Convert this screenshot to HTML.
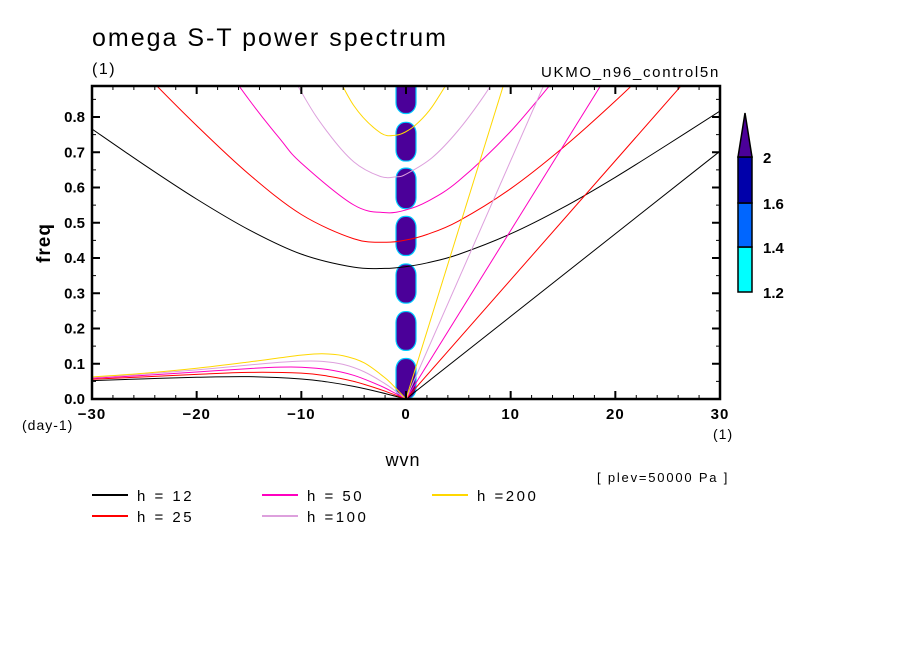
<!DOCTYPE html>
<html><head><meta charset="utf-8">
<style>
body{margin:0;background:#fff;}
svg{display:block;font-family:"Liberation Sans",sans-serif;}
</style></head>
<body>
<svg id="c" width="904" height="654" viewBox="0 0 904 654">
<defs><clipPath id="pc"><rect x="92" y="86" width="628" height="313"/></clipPath></defs>
<text x="92" y="46" font-size="25" letter-spacing="2">omega S-T power spectrum</text>
<text x="92" y="74" font-size="16" letter-spacing="1.5">(1)</text>
<text x="720" y="77" font-size="15" letter-spacing="1.7" text-anchor="end">UKMO_n96_control5n</text>
<text x="50" y="243" font-size="19" font-weight="bold" letter-spacing="1" text-anchor="middle" transform="rotate(-90 50 243)">freq</text>
<text x="403" y="466" font-size="18" letter-spacing="1" text-anchor="middle">wvn</text>
<text x="22" y="430" font-size="14" letter-spacing="1">(day-1)</text>
<text x="713" y="439" font-size="14" letter-spacing="1">(1)</text>
<text x="597" y="482" font-size="13" letter-spacing="1.8">[ plev=50000 Pa ]</text>
<g id="plot" clip-path="url(#pc)"></g>
<g id="axes"></g>
<g id="cbar"></g>
<g id="legend"></g>
</svg>
<script>
const hLabels=["h = 12","h = 25","h = 50","h =100","h =200"];
const colors=["#000000","#ff0000","#ff00c0","#dda0dd","#ffd700"];
// n=1 inertia-gravity curves
const igWvn=[[-30,-25,-20,-15,-10,-5,-2,0,2,5,10,15,20,25,30],
[-30,-25,-20,-15,-10,-5,-2,0,2,5,10,15,20,25],
[-20,-15,-12,-10,-5,-2,0,2,5,10,15],
[-15,-10,-7.5,-5,-2.5,-1,0,2.5,5,7.5,10],
[-7.5,-5,-2.5,-1,0,1,2.5,5]];
const igFreq=[[0.766,0.664,0.567,0.480,0.411,0.374,0.3705,0.3755,0.386,0.410,0.4685,0.543,0.629,0.722,0.817],
[1.081,0.9245,0.7755,0.6376,0.5234,0.4547,0.4446,0.451,0.4667,0.5046,0.5967,0.7131,0.8453,0.9876],
[1.056,0.8493,0.7364,0.6693,0.5507,0.5287,0.5364,0.5597,0.618,0.7593,0.9357],
[1.147,0.8711,0.7572,0.6731,0.6319,0.630,0.6379,0.6848,0.7624,0.8623,0.9786],
[0.9737,0.8329,0.7563,0.7483,0.7585,0.7797,0.8292,0.9487]];
// n=1 equatorial Rossby curves
const rWvn=[[-30,-25,-20,-15,-10,-7.5,-5,-2.5,0],
[-30,-25,-20,-15,-10,-7.5,-5,-2.5,0],
[-30,-25,-20,-15,-12,-10,-7.5,-5,-2.5,-1,0],
[-30,-25,-20,-15,-12,-10,-8,-6,-4,-2,-1,0],
[-30,-25,-20,-15,-12,-10,-8,-6,-4,-2,-1,0]];
const rFreq=[[0.0523,0.0572,0.0616,0.0633,0.0568,0.0484,0.0357,0.0191,0],
[0.056,0.0628,0.0699,0.0755,0.0733,0.065,0.05,0.0273,0],
[0.059,0.0669,0.0767,0.0863,0.0903,0.0901,0.0836,0.0672,0.0381,0.0158,0],
[0.0612,0.0707,0.0825,0.0964,0.1042,0.1075,0.1068,0.0981,0.0773,0.0435,0.0222,0],
[0.0625,0.0731,0.0871,0.1051,0.1171,0.1244,0.1282,0.1226,0.1025,0.0598,0.0313,0]];
// Kelvin wave frequency at wvn 30
const kelvinAt30=[0.703,1.014,1.434,2.028,2.868];
// spectral power blobs at wvn 0
const blobLo=[0.0,0.138,0.272,0.407,0.54,0.675,0.81];
const blobHi=[0.115,0.248,0.383,0.518,0.655,0.785,0.95];
const cbLevels=[1.2,1.4,1.6,2];
const cbColors=["#00ffff","#0066ff","#0000aa","#4b0099"];
const xTicks=[-30,-20,-10,0,10,20,30];
const yTicks=[0,0.1,0.2,0.3,0.4,0.5,0.6,0.7,0.8];

const X0=92,X1=720,Y0=399,YTOP=86;
const xs=v=>X0+(v+30)/60*(X1-X0);
const ys=v=>Y0-v/0.1*35.25;
const NS="http://www.w3.org/2000/svg";
function mk(tag,attrs,parent){const e=document.createElementNS(NS,tag);for(const k in attrs)e.setAttribute(k,attrs[k]);parent.appendChild(e);return e;}
function smooth(px,py){let d="M"+px[0]+","+py[0];for(let i=0;i<px.length-1;i++){const x0=px[Math.max(i-1,0)],y0=py[Math.max(i-1,0)],x1=px[i],y1=py[i],x2=px[i+1],y2=py[i+1],x3=px[Math.min(i+2,px.length-1)],y3=py[Math.min(i+2,px.length-1)];d+=" C"+(x1+(x2-x0)/6)+","+(y1+(y2-y0)/6)+" "+(x2-(x3-x1)/6)+","+(y2-(y3-y1)/6)+" "+x2+","+y2;}return d;}
const plot=document.getElementById('plot');
blobLo.forEach((lo,i)=>{
 const yA=ys(blobHi[i]),yB=ys(lo),cx=xs(0);
 const r=mk('rect',{x:cx-10,y:yA,width:20,height:yB-yA,rx:9,ry:11,fill:"#4b0099",stroke:"#00ccff","stroke-width":1.2},plot);
 
 
});
for(let j=0;j<5;j++){
 const p1=mk('path',{d:smooth(igWvn[j].map(xs),igFreq[j].map(ys)),fill:"none",stroke:colors[j],"stroke-width":1},plot);
 
 
 const p2=mk('path',{d:smooth(rWvn[j].map(xs),rFreq[j].map(ys)),fill:"none",stroke:colors[j],"stroke-width":1},plot);
 
 
 const p3=mk('line',{x1:xs(0),y1:ys(0),x2:xs(30),y2:ys(kelvinAt30[j]),stroke:colors[j],"stroke-width":1},plot);
 
 
}
const ax=document.getElementById('axes');
mk('rect',{x:X0,y:YTOP,width:X1-X0,height:Y0-YTOP,fill:"none",stroke:"#000","stroke-width":2.5},ax);
for(let v=-30;v<=30;v+=2){const big=v%10===0;const L=big?8:4;
 mk('line',{x1:xs(v),y1:Y0,x2:xs(v),y2:Y0-L,stroke:"#000","stroke-width":big?2:1},ax);
 mk('line',{x1:xs(v),y1:YTOP,x2:xs(v),y2:YTOP+L,stroke:"#000","stroke-width":big?2:1},ax);}
for(let k=0;k<=17;k++){const v=k*0.05;const big=k%2===0;const L=big?8:4;
 mk('line',{x1:X0,y1:ys(v),x2:X0+L,y2:ys(v),stroke:"#000","stroke-width":big?2:1},ax);
 mk('line',{x1:X1,y1:ys(v),x2:X1-L,y2:ys(v),stroke:"#000","stroke-width":big?2:1},ax);}
xTicks.forEach(v=>{const t=mk('text',{x:xs(v),y:419,"font-size":15,"font-weight":"bold","letter-spacing":1,"text-anchor":"middle"},ax);t.textContent=(v<0?"\u2212":"")+Math.abs(v);
 
 });
yTicks.forEach(v=>{const t=mk('text',{x:85,y:ys(v)+5,"font-size":15,"font-weight":"bold","text-anchor":"end"},ax);t.textContent=v.toFixed(1);
 
 });
const cb=document.getElementById('cbar');
const cbY=[292,247,203,157];
for(let i=0;i<3;i++){const r=mk('rect',{x:738,y:cbY[i+1],width:14,height:cbY[i]-cbY[i+1],fill:cbColors[i],stroke:"#000","stroke-width":1.5},cb);
 
 }
const tri=mk('polygon',{points:"738,157 752,157 745,113",fill:cbColors[3],stroke:"#000","stroke-width":1.5},cb);


cbLevels.forEach((v,i)=>{const t=mk('text',{x:763,y:cbY[i]+6,"font-size":15,"font-weight":"bold"},cb);t.textContent=String(v);
 
 });
const lg=document.getElementById('legend');
const lpos=[[92,495],[92,516],[262,495],[262,516],[432,495]];
for(let j=0;j<5;j++){const [lx,ly]=lpos[j];
 const l=mk('line',{x1:lx,y1:ly,x2:lx+36,y2:ly,stroke:colors[j],"stroke-width":2},lg);
 
 
 const t=mk('text',{x:lx+45,y:ly+6,"font-size":15,"letter-spacing":2.5,"xml:space":"preserve"},lg);t.textContent=hLabels[j];
 
 }
</script>
</body></html>
